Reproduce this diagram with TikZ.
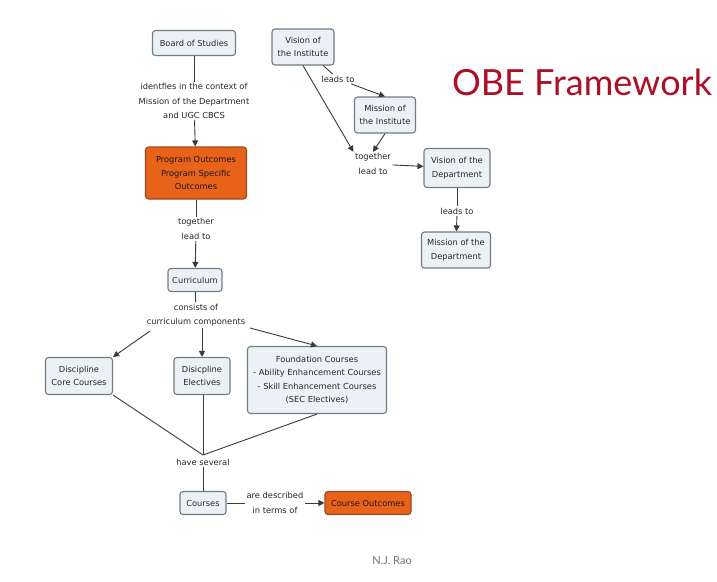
\documentclass[tikz,border=0pt]{standalone}
\usepackage{fontspec}
\setmainfont{DejaVu Sans}
\newfontfamily\titlefont{Lato}
\usetikzlibrary{arrows.meta}
\definecolor{boxfill}{HTML}{EAF2F5}
\definecolor{boxdraw}{HTML}{6F7D82}
\definecolor{orangefill}{HTML}{E8621A}
\definecolor{orangedraw}{HTML}{9A4A20}
\definecolor{titlered}{HTML}{AC0F26}
\definecolor{linegray}{HTML}{3A3A3A}
\tikzset{
  concept/.style={draw=boxdraw, fill=boxfill, rounded corners=3pt, line width=1.1pt, align=center, font=\fontsize{8.3}{13.5}\selectfont, inner xsep=4pt, inner ysep=3pt, text=black!85},
  hot/.style={concept, fill=orangefill, draw=orangedraw, text=black!90},
  lbl/.style={align=center, font=\fontsize{8.3}{14.5}\selectfont, inner sep=1.5pt, fill=white, text=black!85},
  conn/.style={draw=linegray, line width=0.9pt},
  arr/.style={conn, -{Triangle[length=6pt,width=6pt]}},
}
\begin{document}
\begin{tikzpicture}[x=1pt,y=-1pt]
\useasboundingbox[fill=white] (0,0) rectangle (717,581);
% left column
\node[concept, minimum width=83pt, minimum height=25pt] (bos) at (194,43) {Board of Studies};
\node[lbl] (l1) at (194,101) {identfies in the context of\\Mission of the Department\\and UGC CBCS};
\node[hot, minimum width=101pt, minimum height=52pt] (po) at (196,173) {Program Outcomes\\Program Specific\\Outcomes};
\node[lbl] (l2) at (196,229) {together\\lead to};
\node[concept, minimum width=54pt, minimum height=23pt] (cur) at (195,280) {Curriculum};
\node[lbl] (l3) at (196,315) {consists of\\curriculum components};
\node[concept, minimum width=67pt, minimum height=37pt] (dcc) at (79,376) {Discipline\\Core Courses};
\node[concept, minimum width=56pt, minimum height=37pt] (de) at (202,376) {Disicpline\\Electives};
\node[concept, minimum width=139pt, minimum height=67pt] (fc) at (317,380) {Foundation Courses\\- Ability Enhancement Courses\\- Skill Enhancement Courses\\(SEC Electives)};
\node[lbl] (l4) at (203,462) {have several};
\node[concept, minimum width=46pt, minimum height=23pt] (crs) at (203,503) {Courses};
\node[lbl] (l5) at (275,503) {are described\\in terms of};
\node[hot, minimum width=86pt, minimum height=23pt] (co) at (368,503) {Course Outcomes};
% right column
\node[concept, minimum width=62pt, minimum height=36pt] (vi) at (303,47) {Vision of\\the Institute};
\node[lbl] (l6) at (338,79) {leads to};
\node[concept, minimum width=61pt, minimum height=36pt] (mi) at (385,115) {Mission of\\the Institute};
\node[lbl] (l7) at (373,164) {together\\lead to};
\node[concept, minimum width=66pt, minimum height=39pt] (vd) at (457,168) {Vision of the\\Department};
\node[lbl] (l8) at (457,211) {leads to};
\node[concept, minimum width=69pt, minimum height=36pt] (md) at (456,250) {Mission of the\\Department};
% title and footer
\node[text=titlered, font=\titlefont\fontsize{36}{40}\selectfont, inner sep=0pt] (title) at (582,82) {OBE Framework};
\node[text=black!55, font=\titlefont\fontsize{11}{13}\selectfont, inner sep=0pt] (auth) at (392,561) {N.J. Rao};
% connectors
\draw[conn] (bos) -- (l1);
\draw[arr] (l1) -- (po);
\draw[conn] (po) -- (l2);
\draw[arr] (l2) -- (cur);
\draw[conn] (cur) -- (l3);
\coordinate (c3a) at (150,331);
\coordinate (c3c) at (250,328);
\draw[arr] (c3a) -- (dcc.north east);
\draw[arr] (l3.south -| de.north) -- (de.north);
\draw[arr] (c3c) -- (fc.north);
\coordinate (hs) at (203,455);
\draw[conn] (dcc.south east) -- (hs);
\draw[conn] (de.south -| hs) -- (hs);
\draw[conn] (fc.south) -- (hs);
\draw[conn] (l4) -- (crs);
\draw[conn] (crs) -- (l5);
\draw[arr] (l5) -- (co);
\draw[conn] (vi) -- (l6);
\draw[arr] (l6) -- (mi.north);
\draw[arr] (vi.south) -- (l7.north west);
\draw[arr] (mi.south) -- (l7.north);
\draw[arr] (l7) -- (vd);
\draw[conn] (vd) -- (l8);
\draw[arr] (l8) -- (md);
\end{tikzpicture}
\end{document}
